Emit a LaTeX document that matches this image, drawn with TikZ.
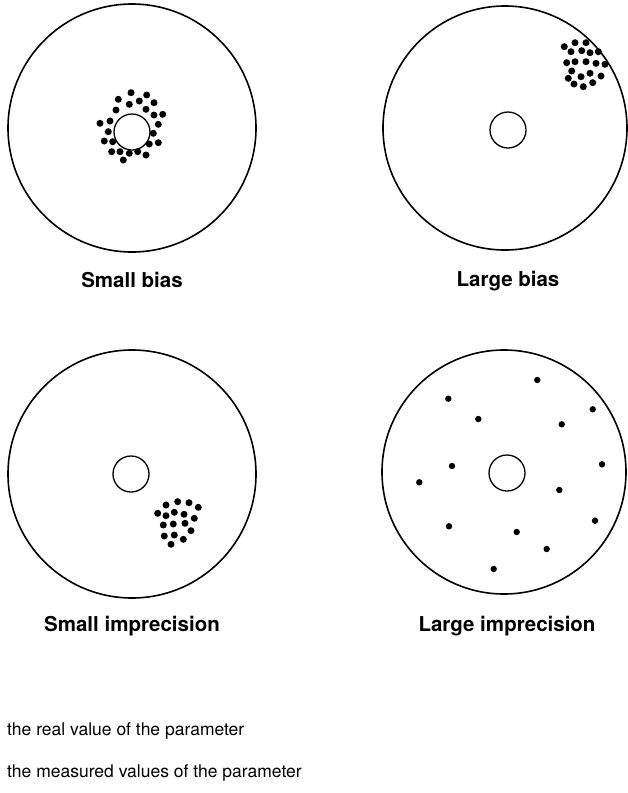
\documentclass[tikz,border=0pt]{standalone}
\usepackage{fontspec}
\setmainfont{TeX Gyre Heros}

\begin{document}
\begin{tikzpicture}[
    x=1pt, y=-1pt,
    target/.style={draw=black, line width=1.6pt},
    bull/.style={draw=black, line width=1.3pt, fill=white},
    hit/.style={fill=black},
    caption/.style={font=\fontsize{20.5}{24}\selectfont\bfseries, anchor=base, inner sep=0pt},
    legend/.style={font=\fontsize{17.5}{21}\selectfont, anchor=base west, inner sep=0pt}
]
\useasboundingbox (0,0) rectangle (627,793);

% small bias
\draw[target] (132,128) circle[radius=124pt];
\draw[bull] (132,132) circle[radius=18pt];
\foreach \p in {(131,92.7),(146.7,95),(118.3,99.3),(139.3,101),(129.3,104.3),(154,102.7),
    (116,110),(146,109.3),(154,115),(162.7,114.3),(100,123.3),(110,121),(158.3,124.3),
    (108.3,131.7),(153.3,133.3),(104.3,141),(112.7,141.7),(149.3,144),(158.3,142.7),
    (111.7,151.7),(120,151.7),(129.3,153.3),(137.7,151.7),(146,155),(123.3,160)}
    \fill[hit] \p circle[radius=3.5pt];
\node[caption] (smallbias) at (132,287) {Small bias};

% large bias
\draw[target] (505,128) circle[radius=122pt];
\draw[bull] (508,130) circle[radius=18pt];
\foreach \p in {(564.3,46.7),(575,42.7),(586,42.7),(571,51.7),(581.7,50.7),(590,52.7),
    (598.3,51.7),(566.7,62.7),(575,61.7),(586,61.7),(596,63.3),(605,64.3),(571.7,71),
    (568.3,78.3),(581,76.7),(590,73.3),(601,76),(574,84),(583.3,86.7),(592.7,82.7)}
    \fill[hit] \p circle[radius=3.5pt];
\node[caption] (largebias) at (508,286) {Large bias};

% small imprecision
\draw[target] (132,474) circle[radius=124pt];
\draw[bull] (131,474) circle[radius=18pt];
\foreach \p in {(166,505),(177.7,501.7),(189,502.7),(198.3,507.3),(157.7,513.3),(166,515.7),
    (174.3,512.3),(184,514.3),(194.3,518.3),(163.3,525),(173.3,524),(185,523.3),(191,530.7),
    (164.3,536),(174.3,535),(183.3,539.3),(171,544.3)}
    \fill[hit] \p circle[radius=3.5pt];
\node[caption] (smallimp) at (132,631) {Small imprecision};

% large imprecision
\draw[target] (504,472) circle[radius=122pt];
\draw[bull] (507,473) circle[radius=18pt];
\foreach \p in {(537.3,380),(448.3,398.7),(592.7,409.3),(478.3,419),(561.7,424.3),(452,466),
    (602,464.3),(419.3,482.3),(559.3,490),(595,520.7),(449,526.3),(516.7,532),(546.7,549),
    (493.7,569)}
    \fill[hit] \p circle[radius=3.2pt];
\node[caption] (largeimp) at (507,631) {Large imprecision};

% legend
\node[legend] (realval) at (7,735) {the real value of the parameter};
\node[legend] (measval) at (7,777) {the measured values of the parameter};
\end{tikzpicture}
\end{document}
